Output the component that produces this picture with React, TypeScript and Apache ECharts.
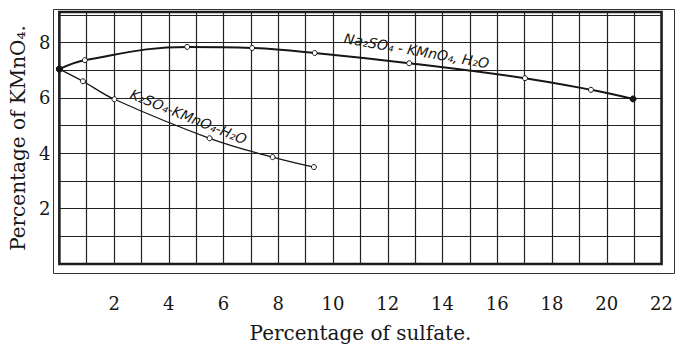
import React, { useEffect, useRef } from "react";
import * as echarts from "echarts";

// Na2SO4 - KMnO4 - H2O : [percentage of sulfate, percentage of KMnO4]
const naX = [0, 0.93, 4.67, 7.04, 9.33, 12.78, 17.01, 19.42, 20.96];
const naY = [7.04, 7.36, 7.84, 7.8, 7.62, 7.25, 6.71, 6.29, 5.96];
// K2SO4 - KMnO4 - H2O
const kX = [0, 0.86, 2.01, 5.49, 7.79, 9.3];
const kY = [7.04, 6.6, 5.95, 4.54, 3.86, 3.5];

const xTicks = [2, 4, 6, 8, 10, 12, 14, 16, 18, 20, 22];
const yTicks = [2, 4, 6, 8];

const naLabel = "Na₂SO₄ - KMnO₄, H₂O";
const kLabel = "K₂SO₄-KMnO₄-H₂O";
const naLabelAt = [13.05, 7.7];
const kLabelAt = [4.72, 5.32];

const INK = "#161616";
const SERIF = "'DejaVu Serif', 'Liberation Serif', serif";
const HAND = "'DejaVu Sans', sans-serif";

function pointData(xs: number[], ys: number[], filled: number[]) {
  return xs.map((x, i) => {
    const isFilled = filled.includes(i);
    return {
      value: [x, ys[i]],
      symbol: "circle",
      symbolSize: isFilled ? 6 : 5,
      itemStyle: isFilled
        ? { color: INK, borderColor: INK, borderWidth: 1 }
        : { color: "#ffffff", borderColor: INK, borderWidth: 1 },
    };
  });
}

export default function App() {
  const ref = useRef<HTMLDivElement>(null);
  useEffect(() => {
    if (!ref.current) return;
    const chart = echarts.init(ref.current, undefined, { renderer: "svg" });
    chart.setOption({
      animation: false,
      backgroundColor: "#ffffff",
      grid: {
        left: 57,
        right: 6,
        top: 12,
        bottom: 80,
        show: true,
        borderColor: INK,
        borderWidth: 2.5,
        backgroundColor: "transparent",
      },
      graphic: [
        {
          type: "rect",
          left: 53,
          top: 9,
          shape: { width: 621, height: 264 },
          style: { fill: "transparent", stroke: "#333", lineWidth: 1 },
          silent: true,
        },
      ],
      xAxis: {
        type: "value",
        min: 0,
        max: 22,
        interval: 1,
        name: "Percentage of sulfate.",
        nameLocation: "middle",
        nameGap: 59,
        nameTextStyle: { fontFamily: SERIF, fontSize: 20, color: INK },
        axisLine: { show: false },
        axisTick: { show: false },
        axisLabel: {
          margin: 30,
          fontFamily: SERIF,
          fontSize: 18,
          color: INK,
          showMinLabel: false,
          formatter: (v: number) => (xTicks.includes(v) ? String(v) : ""),
        },
        splitLine: { show: true, lineStyle: { color: "#222", width: 1.2 } },
      },
      yAxis: {
        type: "value",
        min: 0,
        max: 9.1,
        interval: 1,
        name: "Percentage of KMnO₄.",
        nameLocation: "middle",
        nameGap: 26,
        nameTextStyle: { fontFamily: SERIF, fontSize: 20, color: INK },
        axisLine: { show: false },
        axisTick: { show: false },
        axisLabel: {
          margin: 9,
          fontFamily: SERIF,
          fontSize: 18,
          color: INK,
          formatter: (v: number) => (yTicks.includes(v) ? String(v) : ""),
        },
        splitLine: { show: true, lineStyle: { color: "#222", width: 1.2 } },
      },
      series: [
        {
          type: "line",
          name: naLabel,
          smooth: 0.4,
          data: pointData(naX, naY, [0, naX.length - 1]),
          lineStyle: { color: INK, width: 2 },
          z: 5,
          markPoint: {
            symbol: "circle",
            symbolSize: 0,
            itemStyle: { color: "transparent" },
            label: {
              show: true,
              position: "inside",
              rotate: -10,
              fontFamily: HAND,
              fontStyle: "italic",
              fontSize: 14,
              color: INK,
              formatter: naLabel,
            },
            data: [{ coord: naLabelAt, value: 0 }],
          },
        },
        {
          type: "line",
          name: kLabel,
          smooth: 0.4,
          data: pointData(kX, kY, [0]),
          lineStyle: { color: INK, width: 1.3 },
          z: 5,
          markPoint: {
            symbol: "circle",
            symbolSize: 0,
            itemStyle: { color: "transparent" },
            label: {
              show: true,
              position: "inside",
              rotate: -22,
              fontFamily: HAND,
              fontStyle: "italic",
              fontSize: 14,
              color: INK,
              formatter: kLabel,
            },
            data: [{ coord: kLabelAt, value: 0 }],
          },
        },
      ],
    });
    return () => chart.dispose();
  }, []);
  return (
    <div
      ref={ref}
      style={{ width: 676, height: 348, position: "absolute", left: 0, top: 0 }}
    />
  );
}
